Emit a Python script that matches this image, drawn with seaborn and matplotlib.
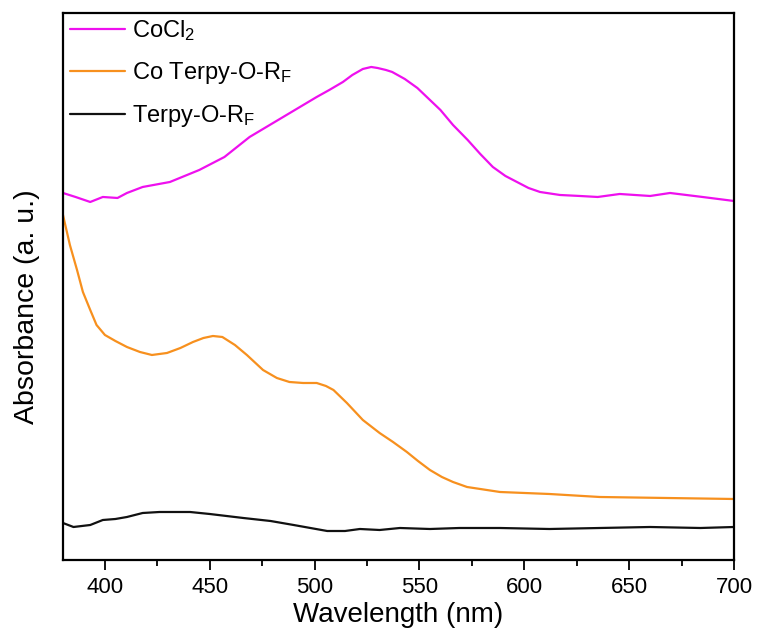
import pandas as pd
import seaborn as sns
import matplotlib
matplotlib.use("Agg")
import matplotlib.pyplot as plt
from matplotlib.ticker import MultipleLocator

# spectra (absorbance in arbitrary units)
wl_cocl2 = [380, 386, 393, 399, 406, 410.5, 418, 431, 445, 457, 469, 477, 485, 493, 501, 507, 513.5, 518, 523,
            527, 530, 534, 537, 543, 549, 554, 560, 566, 573, 579, 585, 591, 596.5, 602, 607.5, 617, 626.5,
            635, 645.5, 660, 669.5, 685, 700]
abs_cocl2 = [36.7, 36.3, 35.8, 36.3, 36.2, 36.7, 37.3, 37.8, 39.0, 40.3, 42.3, 43.3, 44.3, 45.3, 46.3, 47.0,
             47.8, 48.5, 49.1, 49.3, 49.2, 49.0, 48.8, 48.1, 47.2, 46.2, 45.0, 43.5, 42.0, 40.6, 39.3, 38.4,
             37.8, 37.2, 36.8, 36.5, 36.4, 36.3, 36.6, 36.4, 36.7, 36.3, 35.9]

wl_coterpy = [380, 383.3, 386.7, 389.5, 393, 396, 400, 405, 410.5, 416.7, 422.4, 429.6, 436, 442, 447,
              451.5, 456, 462, 467.7, 475.4, 482, 488, 494.5, 501, 505.4, 509, 515.4, 523, 531, 537.4,
              544, 549.3, 555, 560.7, 566, 572.7, 579, 588.4, 612, 636, 668, 700]
abs_coterpy = [34.5, 31.5, 29.0, 26.8, 25.0, 23.5, 22.5, 21.9, 21.3, 20.8, 20.5, 20.7, 21.2, 21.8, 22.2,
               22.4, 22.3, 21.5, 20.5, 19.0, 18.2, 17.8, 17.7, 17.7, 17.4, 17.0, 15.7, 14.0, 12.7, 11.8,
               10.8, 9.9, 9.0, 8.3, 7.8, 7.3, 7.1, 6.8, 6.6, 6.3, 6.2, 6.1]

wl_terpy = [380, 385, 393, 399, 405, 410.5, 418, 426, 440.6, 450, 466, 479, 490, 498, 506, 514.5,
            521.6, 531, 540.7, 555, 569, 588.4, 612, 636, 660, 684, 700]
abs_terpy = [3.7, 3.3, 3.5, 4.0, 4.1, 4.3, 4.7, 4.8, 4.8, 4.6, 4.2, 3.9, 3.5, 3.2, 2.9, 2.9,
             3.1, 3.0, 3.2, 3.1, 3.2, 3.2, 3.1, 3.2, 3.3, 3.2, 3.3]

labels = ["CoCl$\\mathregular{_2}$", "Co Terpy-O-R$\\mathregular{_F}$", "Terpy-O-R$\\mathregular{_F}$"]
colors = ["#EE10EE", "#F7901E", "#111111"]

df = pd.concat([
    pd.DataFrame({"wl": wl_cocl2, "A": abs_cocl2, "sample": labels[0]}),
    pd.DataFrame({"wl": wl_coterpy, "A": abs_coterpy, "sample": labels[1]}),
    pd.DataFrame({"wl": wl_terpy, "A": abs_terpy, "sample": labels[2]}),
])

sns.set_style("white")
plt.rcParams["font.family"] = ["Liberation Sans", "DejaVu Sans"]
plt.rcParams["mathtext.fontset"] = "custom"
plt.rcParams["mathtext.rm"] = "Liberation Sans"

fig = plt.figure(figsize=(7.57, 6.36), dpi=100)
ax = fig.add_axes([0.0832, 0.1195, 0.8864, 0.8601])

sns.lineplot(data=df, x="wl", y="A", hue="sample", palette=dict(zip(labels, colors)),
             sort=False, estimator=None, linewidth=1.6, ax=ax)

ax.set_xlim(380, 700)
ax.set_ylim(0, 54.7)
ax.xaxis.set_major_locator(MultipleLocator(50))
ax.xaxis.set_minor_locator(MultipleLocator(25))
ax.set_yticks([])
ax.tick_params(axis="x", which="major", direction="out", length=7, width=1.3,
               labelsize=16, bottom=True, pad=5, colors="black")
ax.tick_params(axis="x", which="minor", direction="out", length=4, width=1.3, bottom=True,
               colors="black")
for s in ax.spines.values():
    s.set_linewidth(1.6)
    s.set_color("black")

ax.set_xlabel("Wavelength (nm)", fontsize=20, labelpad=3, color="black")
ax.set_ylabel("Absorbance (a. u.)", fontsize=20.5, color="black")
ax.yaxis.set_label_coords(-0.034, 0.463)

leg = ax.legend(loc="upper left", frameon=False, fontsize=17, handlelength=2.3,
                handletextpad=0.3, labelspacing=0.72, borderaxespad=0,
                bbox_to_anchor=(-0.003, 1.008))
for line in leg.get_lines():
    line.set_linewidth(1.6)
for t in leg.get_texts():
    t.set_color("black")

fig.savefig("out.png", dpi=100)
